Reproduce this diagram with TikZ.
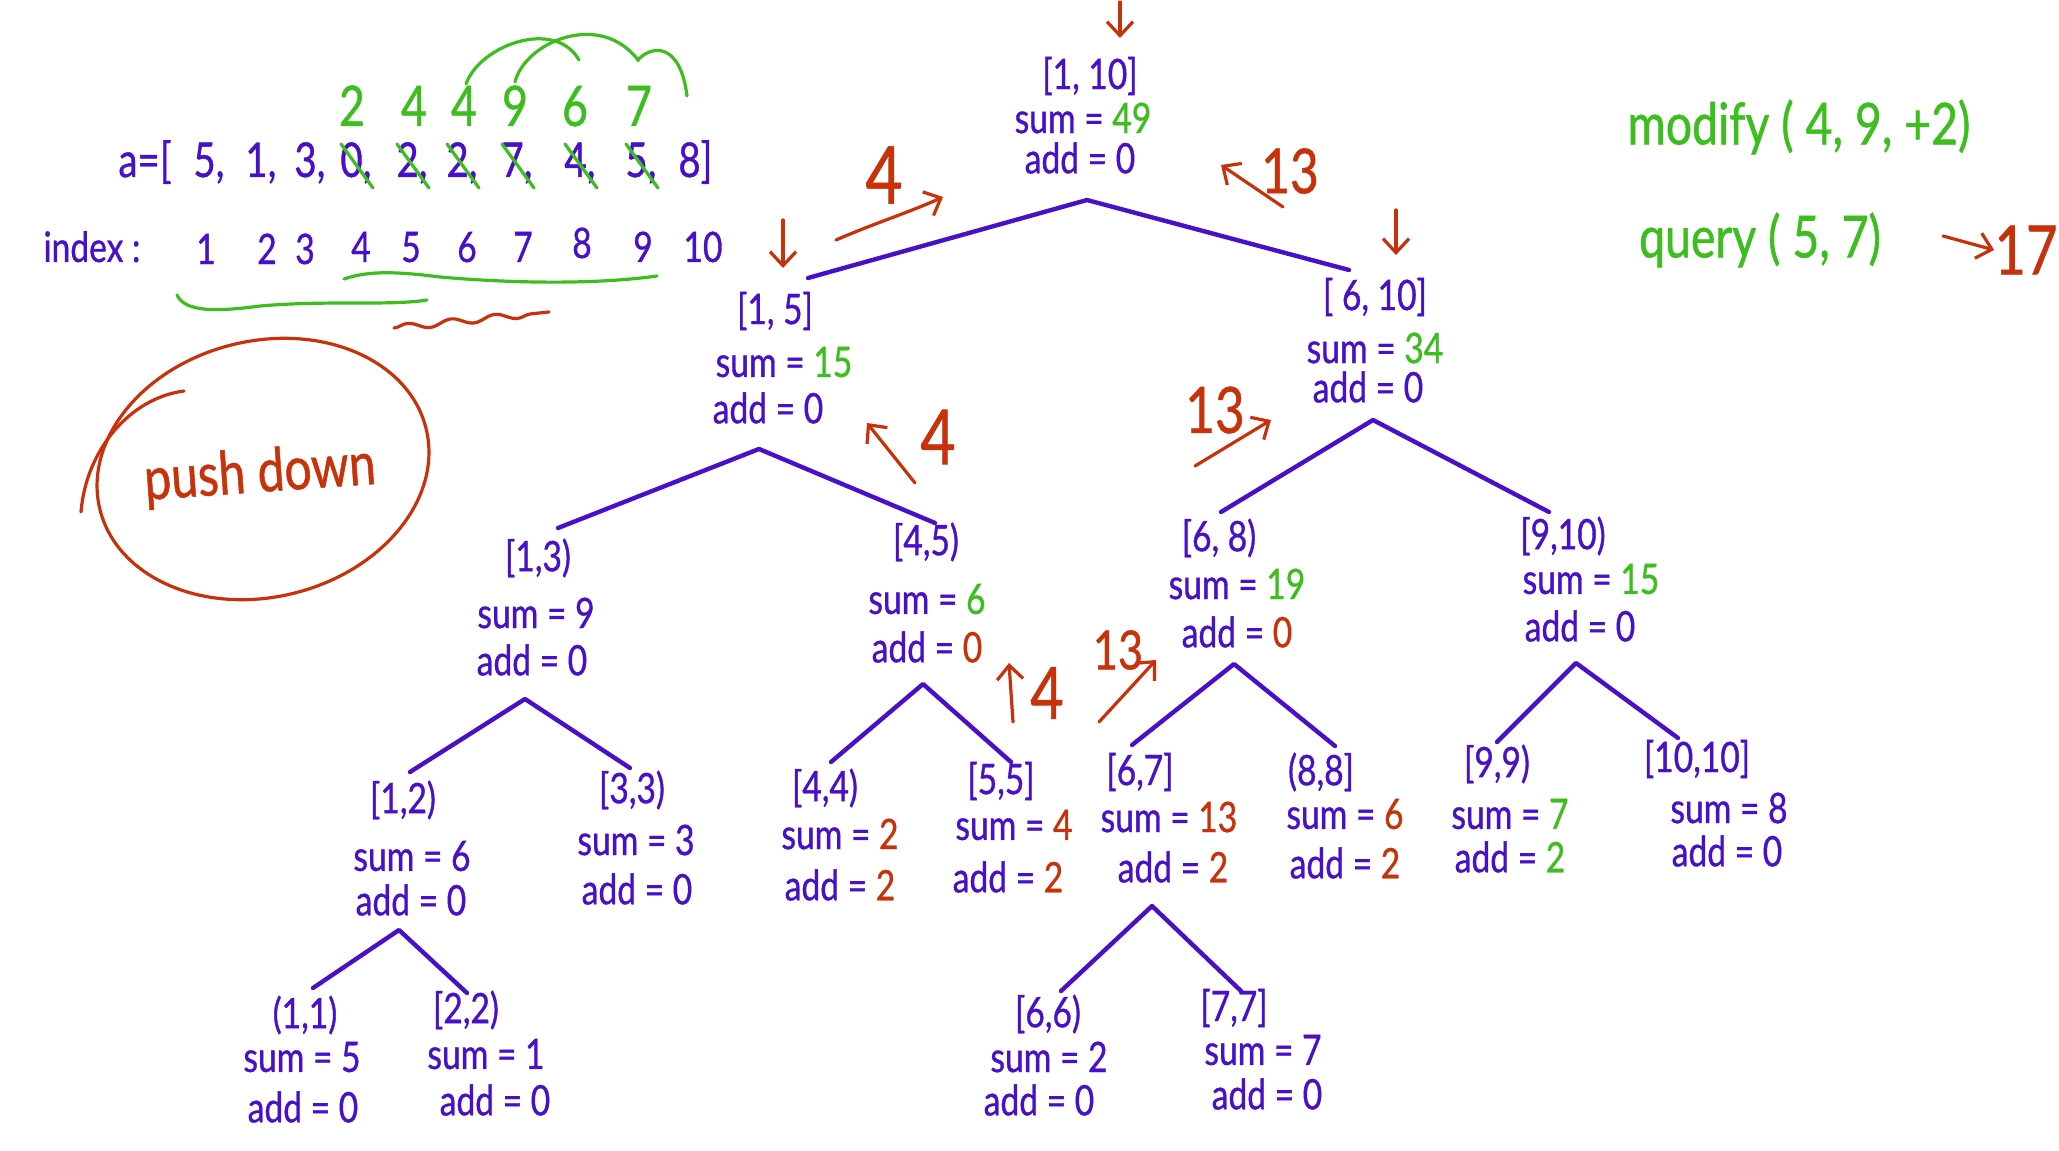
\documentclass[tikz,border=0pt]{standalone}
\usepackage{fontspec}
\setmainfont[FakeStretch=0.8, FakeBold=0.8]{Lato}
\usetikzlibrary{arrows.meta,decorations.pathmorphing}
\definecolor{ink}{RGB}{72,16,200}
\definecolor{grn}{RGB}{60,190,30}
\definecolor{rd}{RGB}{200,50,10}
\newcommand\G[1]{\textcolor{grn}{#1}}
\newcommand\R[1]{\textcolor{rd}{#1}}
\begin{document}
\begin{tikzpicture}[x=0.5pt,y=-0.5pt,
  lbl/.style={text=ink, font=\fontsize{21}{24}\selectfont, inner sep=0pt},
  arr/.style={text=ink, font=\fontsize{24}{26}\selectfont, inner sep=0pt},
  edge/.style={draw=ink, line width=2.2pt, line cap=round, line join=round},
  rarr/.style={draw=rd, line width=1.6pt, line cap=round, -{Straight Barb[length=7pt,width=13pt]}},
  rnum/.style={text=rd, font=\fontsize{34}{36}\selectfont, inner sep=0pt},
  gnum/.style={text=grn, font=\fontsize{28}{30}\selectfont, inner sep=0pt},
  gstroke/.style={draw=grn, line width=1.6pt, line cap=round},
  rstroke/.style={draw=rd, line width=1.6pt, line cap=round}]
\fill[white] (0,0) rectangle (2059,1150);
\useasboundingbox (0,0) rectangle (2059,1150);

% ---------- array and index ----------
\node[arr, anchor=base] (aeq) at (145,177) {a=[};
\node[arr, anchor=base west] (a1) at (193,177) {5,};
\node[arr, anchor=base west] (a2) at (245,177) {1,};
\node[arr, anchor=base west] (a3) at (294,177) {3,};
\node[arr, anchor=base west] (a4) at (340,177) {0,};
\node[arr, anchor=base west] (a5) at (396,177) {2,};
\node[arr, anchor=base west] (a6) at (446,177) {2,};
\node[arr, anchor=base west] (a7) at (501,177) {7,};
\node[arr, anchor=base west] (a8) at (564,177) {4,};
\node[arr, anchor=base west] (a9) at (625,177) {5,};
\node[arr, anchor=base west] (a10) at (678,177) {8]};
\foreach \x in {351,407,457,512,575,636}{
  \draw[gstroke] (\x-10,144) -- (\x+22,188);
}
\node[gnum, anchor=base] (g1) at (352,126) {2};
\node[gnum, anchor=base] (g2) at (414,126) {4};
\node[gnum, anchor=base] (g3) at (464,126) {4};
\node[gnum, anchor=base] (g4) at (515,126) {9};
\node[gnum, anchor=base] (g5) at (575,126) {6};
\node[gnum, anchor=base] (g6) at (639,126) {7};
\draw[gstroke] (466,84) .. controls (480,45) and (555,18) .. (579,60);
\draw[gstroke] (515,82) .. controls (525,42) and (600,10) .. (638,60)
                .. controls (650,46) and (680,40) .. (687,96);

\node[lbl, anchor=base] (idx) at (92,262) {index :};
\node[lbl, anchor=base] (i1) at (206,264) {1};
\node[lbl, anchor=base] (i2) at (267,264) {2};
\node[lbl, anchor=base] (i3) at (305,264) {3};
\node[lbl, anchor=base] (i4) at (361,262) {4};
\node[lbl, anchor=base] (i5) at (411,262) {5};
\node[lbl, anchor=base] (i6) at (467,262) {6};
\node[lbl, anchor=base] (i7) at (523,262) {7};
\node[lbl, anchor=base] (i8) at (582,258) {8};
\node[lbl, anchor=base] (i9) at (643,262) {9};
\node[lbl, anchor=base] (i10) at (703,262) {10};
\draw[gstroke] (344,279) .. controls (370,270) and (400,272) .. (440,277)
               .. controls (520,284) and (600,284) .. (657,276);
\draw[gstroke] (177,295) .. controls (185,312) and (215,312) .. (260,306)
               .. controls (330,300) and (390,306) .. (427,300);
\draw[rstroke, decorate, decoration={snake, amplitude=1.6pt, segment length=22pt}]
  (394,328) -- (549,312);

% ---------- push down ----------
\draw[rstroke, rotate around={14:(263,469)}] (263,469) ellipse [x radius=168, y radius=128];
\draw[rstroke] (81,512) .. controls (86,450) and (130,398) .. (184,391);
\node[text=rd, font=\fontsize{30}{32}\selectfont, inner sep=0pt, rotate=4] (pd) at (260,475) {push down};

% ---------- operations ----------
\node[text=grn, font=\fontsize{29}{32}\selectfont, inner sep=0pt] (mod) at (1799,127) {modify ( 4, 9, +2)};
\node[text=grn, font=\fontsize{29}{32}\selectfont, inner sep=0pt] (qry) at (1760,240) {query ( 5, 7)};
\coordinate (q1) at (1943,236);
\node[rnum, font=\fontsize{34}{36}\selectfont] (res) at (2026,250) {17};
\draw[rarr] (q1) -- (res.west);

% ---------- tree nodes ----------
\node[lbl] (r1) at (1090,76) {[1, 10]};
\node[lbl] (r2) at (1083,118) {sum = \G{49}};
\node[lbl] (r3) at (1080,158) {add = 0};

\node[lbl] (a15) at (775,311) {[1, 5]};
\node[lbl] (b15) at (784,362) {sum = \G{15}};
\node[lbl] (c15) at (768,408) {add = 0};

\node[lbl] (a610) at (1375,297) {[ 6, 10]};
\node[lbl] (b610) at (1375,348) {sum = \G{34}};
\node[lbl] (c610) at (1368,387) {add = 0};

\node[lbl] (a13) at (538,558) {[1,3)};
\node[lbl] (b13) at (536,613) {sum = 9};
\node[lbl] (c13) at (532,660) {add = 0};

\node[lbl] (a45) at (926,542) {[4,5)};
\node[lbl] (b45) at (927,599) {sum = \G{6}};
\node[lbl] (c45) at (927,647) {add = \R{0}};

\node[lbl] (a68) at (1219,538) {[6, 8)};
\node[lbl] (b68) at (1237,584) {sum = \G{19}};
\node[lbl] (c68) at (1237,632) {add = \R{0}};

\node[lbl] (a910) at (1563,536) {[9,10)};
\node[lbl] (b910) at (1591,579) {sum = \G{15}};
\node[lbl] (c910) at (1580,626) {add = 0};

\node[lbl] (a12) at (403,800) {[1,2)};
\node[lbl] (b12) at (412,856) {sum = 6};
\node[lbl] (c12) at (411,900) {add = 0};

\node[lbl] (a33) at (632,790) {[3,3)};
\node[lbl] (b33) at (636,840) {sum = 3};
\node[lbl] (c33) at (637,889) {add = 0};

\node[lbl] (a44) at (825,788) {[4,4)};
\node[lbl] (b44) at (840,834) {sum = \R{2}};
\node[lbl] (c44) at (840,885) {add = \R{2}};

\node[lbl] (a55) at (1001,781) {[5,5]};
\node[lbl] (b55) at (1014,825) {sum = \R{4}};
\node[lbl] (c55) at (1008,877) {add = \R{2}};

\node[lbl] (a67) at (1140,772) {[6,7]};
\node[lbl] (b67) at (1169,817) {sum = \R{13}};
\node[lbl] (c67) at (1173,867) {add = \R{2}};

\node[lbl] (a88) at (1321,772) {(8,8]};
\node[lbl] (b88) at (1345,814) {sum = \R{6}};
\node[lbl] (c88) at (1345,863) {add = \R{2}};

\node[lbl] (a99) at (1497,764) {[9,9)};
\node[lbl] (b99) at (1510,814) {sum = \G{7}};
\node[lbl] (c99) at (1510,857) {add = \G{2}};

\node[lbl] (a1010) at (1697,759) {[10,10]};
\node[lbl] (b1010) at (1729,808) {sum = 8};
\node[lbl] (c1010) at (1727,851) {add = 0};

\node[lbl] (a11) at (305,1015) {(1,1)};
\node[lbl] (b11) at (302,1057) {sum = 5};
\node[lbl] (c11) at (303,1107) {add = 0};

\node[lbl] (a22) at (466,1010) {[2,2)};
\node[lbl] (b22) at (486,1054) {sum = 1};
\node[lbl] (c22) at (495,1100) {add = 0};

\node[lbl] (a66) at (1048,1014) {[6,6)};
\node[lbl] (b66) at (1049,1057) {sum = 2};
\node[lbl] (c66) at (1039,1100) {add = 0};

\node[lbl] (a77) at (1234,1008) {[7,7]};
\node[lbl] (b77) at (1263,1050) {sum = 7};
\node[lbl] (c77) at (1267,1094) {add = 0};

% ---------- tree edges ----------
\coordinate (pr) at (1087,200);   \coordinate (pr-l) at (808,278);   \coordinate (pr-r) at (1349,270);
\coordinate (p15) at (759,449);   \coordinate (p15-l) at (558,528);  \coordinate (p15-r) at (935,523);
\coordinate (p610) at (1373,420); \coordinate (p610-l) at (1221,512);\coordinate (p610-r) at (1549,512);
\coordinate (p13) at (525,699);   \coordinate (p13-l) at (410,772);  \coordinate (p13-r) at (630,768);
\coordinate (p45) at (923,684);   \coordinate (p45-l) at (831,762);  \coordinate (p45-r) at (1011,762);
\coordinate (p68) at (1234,664);  \coordinate (p68-l) at (1132,745); \coordinate (p68-r) at (1335,746);
\coordinate (p910) at (1576,663); \coordinate (p910-l) at (1497,742);\coordinate (p910-r) at (1678,738);
\coordinate (p12) at (399,930);   \coordinate (p12-l) at (313,988);  \coordinate (p12-r) at (467,993);
\coordinate (p67) at (1152,906);  \coordinate (p67-l) at (1061,991); \coordinate (p67-r) at (1241,991);
\foreach \p in {pr,p15,p610,p13,p45,p68,p910,p12,p67}{
  \draw[edge] (\p-l) -- (\p) -- (\p-r);
}

% ---------- red annotations ----------
\coordinate (d0s) at (1120,2);   \coordinate (d0e) at (1120,38);
\draw[rarr] (d0s) -- (d0e);
\coordinate (d1s) at (783,220);  \coordinate (d1e) at (783,268);
\draw[rarr] (d1s) -- (d1e);
\coordinate (d2s) at (1396,210); \coordinate (d2e) at (1396,255);
\draw[rarr] (d2s) -- (d2e);

\node[rnum, font=\fontsize{40}{42}\selectfont] (n4a) at (884,175) {4};
\coordinate (u1s) at (836,240); \coordinate (u1e) at (943,197);
\draw[rarr] (u1s) .. controls (870,225) and (910,212) .. (u1e);

\node[rnum, font=\fontsize{31}{33}\selectfont] (n13a) at (1290,171) {13};
\coordinate (u2s) at (1283,207); \coordinate (u2e) at (1221,165);
\draw[rarr] (u2s) -- (u2e);

\node[rnum, font=\fontsize{38}{40}\selectfont] (n4b) at (938,437) {4};
\coordinate (u3s) at (915,483); \coordinate (u3e) at (867,423);
\draw[rarr] (u3s) -- (u3e);

\node[rnum, font=\fontsize{32}{34}\selectfont] (n13b) at (1215,410) {13};
\coordinate (u4s) at (1195,466); \coordinate (u4e) at (1271,420);
\draw[rarr] (u4s) -- (u4e);

\node[rnum, font=\fontsize{36}{38}\selectfont] (n4c) at (1047,693) {4};
\coordinate (u5s) at (1013,722); \coordinate (u5e) at (1009,663);
\draw[rarr] (u5s) -- (u5e);

\node[rnum, font=\fontsize{27}{29}\selectfont] (n13c) at (1118,650) {13};
\coordinate (u6s) at (1099,722); \coordinate (u6e) at (1156,660);
\draw[rarr] (u6s) -- (u6e);
\end{tikzpicture}
\end{document}
